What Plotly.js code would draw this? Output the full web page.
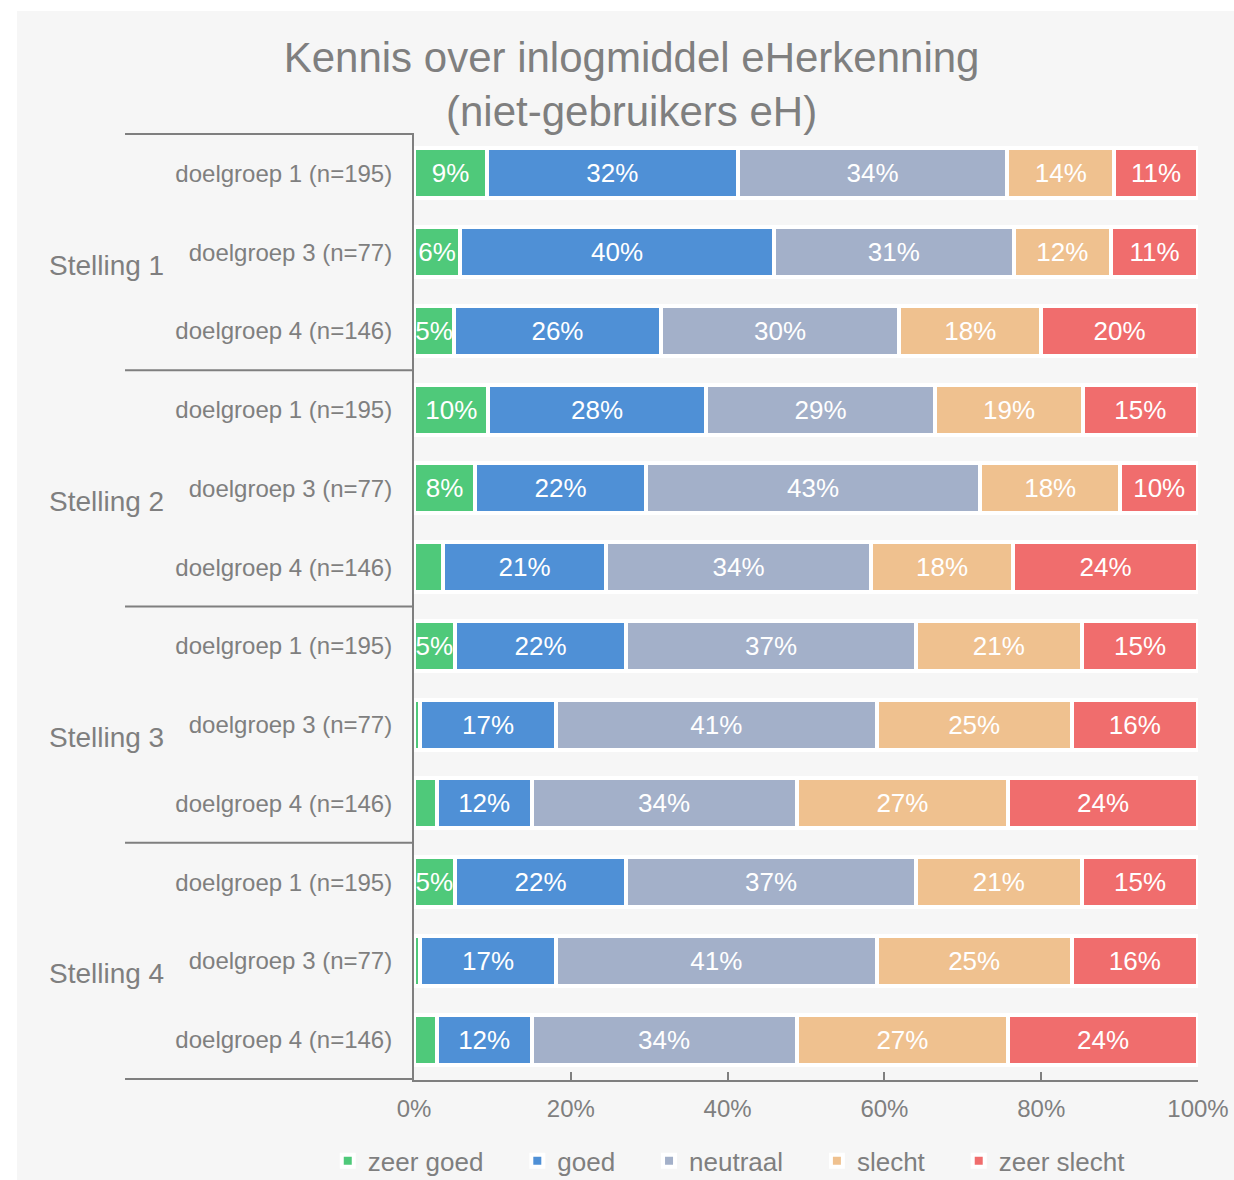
<!DOCTYPE html>
<html>
<head>
<meta charset="utf-8">
<script src="https://cdn.plot.ly/plotly-3.0.1.min.js"></script>
<style>
  html, body { margin: 0; padding: 0; background: #ffffff; }
  #myDiv { position: absolute; left: 17px; top: 11px; width: 1217px; height: 1169px; }
</style>
</head>
<body>
<div id="myDiv"></div>
<script>
  // categorieen
  var stellingen = ['Stelling 1', 'Stelling 2', 'Stelling 3', 'Stelling 4'];
  var doelgroepen = ['doelgroep 1 (n=195)', 'doelgroep 3 (n=77)', 'doelgroep 4 (n=146)'];
  var antwoorden = ['zeer goed', 'goed', 'neutraal', 'slecht', 'zeer slecht'];
  var kleuren = ['#4fc97a', '#4f90d6', '#a3b0c9', '#efc18f', '#f06d6d'];

  // percentages per rij (stelling x doelgroep), van boven naar beneden
  var zeerGoed   = [9.3, 5.9, 5.1,   9.5, 7.8, 3.7,   5.2, 0.8, 2.9,   5.2, 0.8, 2.9];
  var goed       = [32.0, 40.0, 26.4, 27.7, 21.8, 20.8, 21.9, 17.3, 12.1, 21.9, 17.3, 12.1];
  var neutraal   = [34.4, 30.6, 30.4, 29.3, 42.6, 33.8, 36.9, 40.9, 33.8, 36.9, 40.9, 33.8];
  var slecht     = [13.6, 12.4, 18.1, 18.8, 17.9, 18.1, 21.2, 24.9, 27.0, 21.2, 24.9, 27.0];
  var zeerSlecht = [10.7, 11.1, 20.0, 14.7, 9.9, 23.6, 14.8, 16.1, 24.2, 14.8, 16.1, 24.2];

  var reeksen = [zeerGoed, goed, neutraal, slecht, zeerSlecht];

  // y-categorieen: stelling + doelgroep
  var rijen = [];
  var rijLabels = [];
  for (var s = 0; s < stellingen.length; s++) {
    for (var d = 0; d < doelgroepen.length; d++) {
      rijen.push(stellingen[s] + ' - ' + doelgroepen[d]);
      rijLabels.push(doelgroepen[d]);
    }
  }

  var grijs = '#7f7f7f';
  var font = 'Liberation Sans, Arial, sans-serif';
  var opvulling = '\u00a0\u00a0\u00a0\u00a0'; // extra ruimte tussen legenda-items

  var data = [];
  for (var i = 0; i < reeksen.length; i++) {
    var labels = reeksen[i].map(function (v) { return v >= 4.5 ? Math.round(v) + '%' : ''; });
    data.push({
      type: 'bar',
      orientation: 'h',
      name: antwoorden[i] + (i < reeksen.length - 1 ? opvulling : ''),
      y: rijen,
      x: reeksen[i],
      text: labels,
      textposition: 'inside',
      insidetextanchor: 'middle',
      constraintext: 'none',
      textangle: 0,
      textfont: {color: '#ffffff', size: 26, family: font},
      marker: {color: kleuren[i], line: {color: '#ffffff', width: 4}},
      hoverinfo: 'none'
    });
  }

  // scheidingslijnen tussen stellingen en stelling-labels
  var shapes = [];
  var annotations = [];
  for (var k = 0; k <= stellingen.length; k++) {
    shapes.push({
      type: 'line', xref: 'paper', yref: 'y',
      x0: -0.3686, x1: 0, y0: k * 3 - 0.5, y1: k * 3 - 0.5,
      line: {color: grijs, width: 2}
    });
  }
  for (var k = 0; k < stellingen.length; k++) {
    annotations.push({
      text: stellingen[k], xref: 'paper', yref: 'y',
      x: -0.4685, xanchor: 'left', y: rijen[k * 3 + 1], yanchor: 'middle',
      yshift: -13,
      showarrow: false, font: {size: 28, color: grijs, family: font}
    });
  }

  var layout = {
    width: 1217, height: 1169,
    paper_bgcolor: '#f6f6f6',
    plot_bgcolor: '#f6f6f6',
    barmode: 'stack',
    bargap: 0.367,
    font: {family: font, color: grijs},
    title: {
      text: 'Kennis over inlogmiddel eHerkenning<br>(niet-gebruikers eH)',
      font: {size: 42, color: grijs, family: font},
      x: 0.505, xanchor: 'center',
      y: 0.948, yanchor: 'top'
    },
    margin: {l: 397, r: 36, t: 122, b: 100, autoexpand: false},
    xaxis: {
      range: [0, 100],
      dtick: 20,
      ticksuffix: '%',
      showgrid: false,
      zeroline: false,
      showline: true,
      linecolor: grijs,
      linewidth: 2,
      ticks: 'inside',
      ticklen: 8,
      tickwidth: 2,
      tickcolor: grijs,
      ticklabelstandoff: 6,
      tickfont: {size: 24, color: grijs}
    },
    yaxis: {
      type: 'category',
      autorange: 'reversed',
      tickvals: rijen,
      ticktext: rijLabels,
      showgrid: false,
      zeroline: false,
      showline: true,
      linecolor: grijs,
      linewidth: 2,
      ticks: '',
      ticklabelstandoff: 15,
      tickfont: {size: 24, color: grijs}
    },
    showlegend: true,
    legend: {
      orientation: 'h',
      traceorder: 'normal',
      x: -0.110, xanchor: 'left',
      y: -0.0855, yanchor: 'middle',
      font: {size: 26, color: grijs},
      bgcolor: 'rgba(0,0,0,0)'
    },
    shapes: shapes,
    annotations: annotations
  };

  Plotly.newPlot('myDiv', data, layout, {displayModeBar: false});
</script>
</body>
</html>
